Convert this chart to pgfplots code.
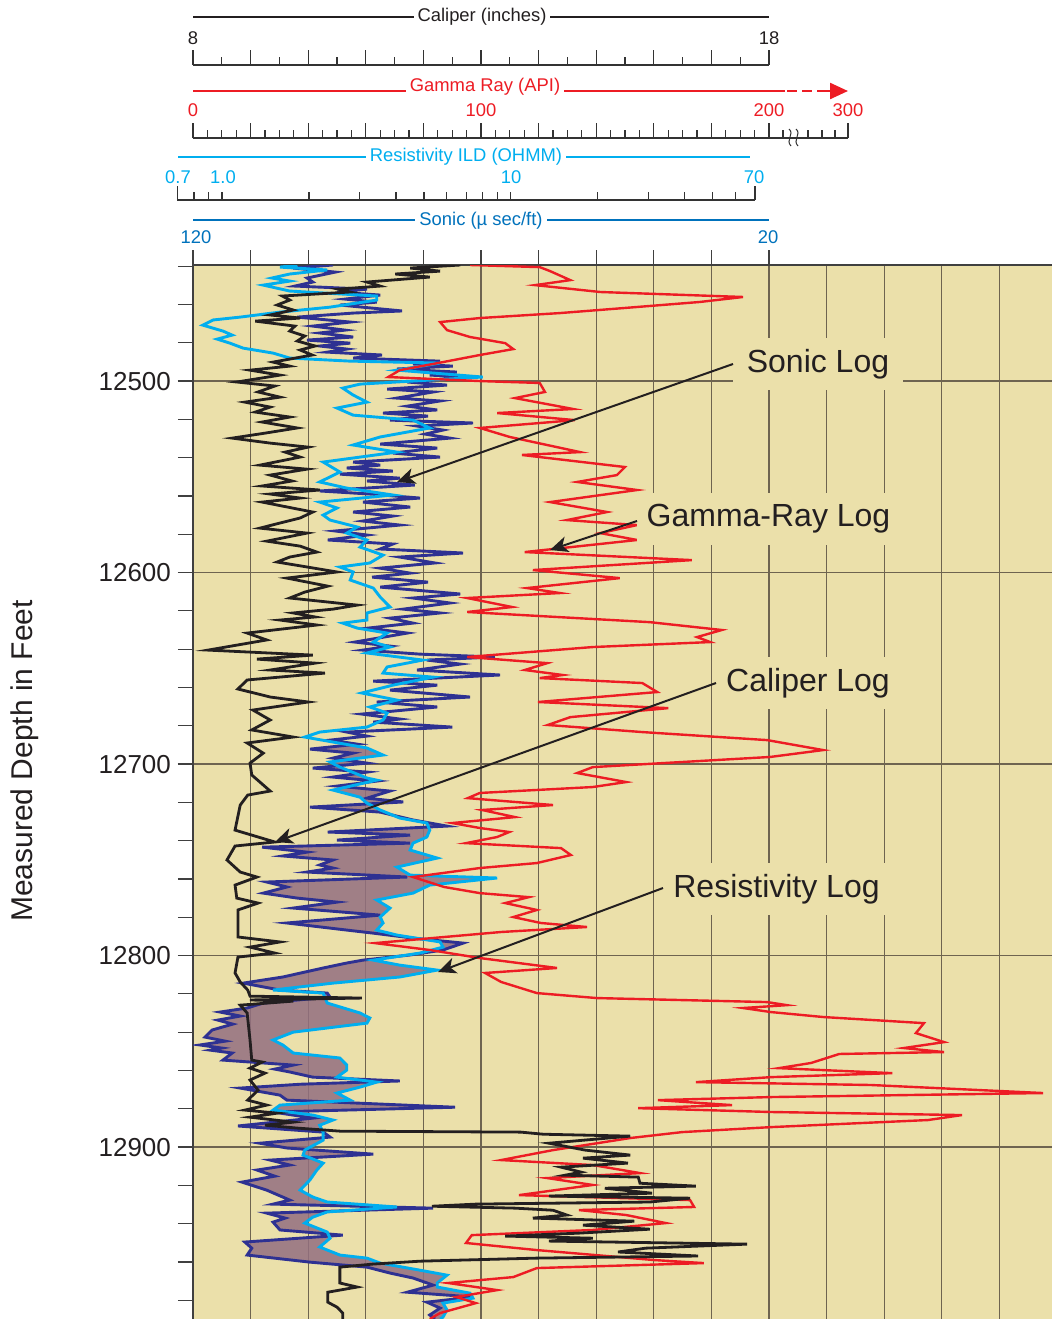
\documentclass[border=0pt]{standalone}
\usepackage{fontspec}
\setmainfont{Liberation Sans}
\usepackage{pgfplots}
\pgfplotsset{compat=1.18}
\usepackage{pgfplotstable}
\usepgfplotslibrary{fillbetween}
\usetikzlibrary{arrows.meta}

\definecolor{bgtan}{RGB}{235,224,170}
\definecolor{gridc}{RGB}{110,100,80}
\definecolor{calc}{RGB}{35,31,32}
\definecolor{grc}{RGB}{237,28,36}
\definecolor{resc}{RGB}{0,174,239}
\definecolor{sonc}{RGB}{46,49,146}
\definecolor{sonhead}{RGB}{0,114,188}
\definecolor{mauve}{RGB}{147,111,128}

\newcommand\hf{\fontsize{9.2}{11}\selectfont}
\newcommand\cf{\fontsize{16}{19}\selectfont}

% x = chart grid unit (caliper inches - 8), d = measured depth (ft)
\pgfplotstableread{
u d
4.64 12439.4
3.77 12441.0
4.29 12442.6
3.51 12444.1
4.11 12445.7
3.02 12448.3
3.25 12450.4
2.52 12452.0
2.73 12453.5
1.55 12455.6
1.68 12457.7
1.46 12460.3
1.74 12462.9
1.34 12465.5
1.86 12467.1
1.08 12468.7
1.77 12471.3
1.68 12473.9
1.94 12476.5
1.81 12479.1
2.12 12481.7
1.86 12483.8
2.07 12486.4
1.39 12490.1
1.68 12492.2
0.99 12494.3
1.51 12496.9
0.76 12500.5
1.42 12502.6
1.13 12505.7
1.51 12508.4
0.90 12511.0
1.34 12513.6
1.08 12516.2
1.68 12518.8
1.20 12521.4
1.81 12524.5
1.25 12527.2
0.68 12529.8
1.34 12532.4
2.00 12534.5
1.60 12537.1
1.86 12539.7
1.16 12543.9
1.98 12546.0
1.34 12549.1
1.72 12552.2
1.20 12554.8
2.20 12556.9
1.34 12559.0
1.86 12561.1
1.20 12563.2
2.08 12568.4
1.86 12571.5
1.16 12576.8
1.98 12579.4
1.28 12583.6
1.86 12586.2
2.15 12589.3
1.68 12591.9
1.46 12594.5
1.98 12597.1
2.50 12599.7
1.63 12602.9
2.34 12607.1
1.94 12610.2
1.68 12613.3
2.85 12617.0
2.43 12619.1
1.74 12621.1
2.12 12623.2
1.51 12624.8
2.15 12627.4
0.94 12631.6
1.28 12635.2
0.26 12640.5
2.08 12643.1
1.11 12645.2
2.12 12647.3
1.34 12650.9
2.29 12652.5
0.94 12656.1
0.78 12660.8
1.34 12665.0
2.00 12667.6
1.04 12671.8
1.34 12677.0
1.02 12682.2
1.74 12685.9
0.94 12689.0
1.22 12694.3
0.99 12699.5
1.02 12705.7
1.34 12714.1
0.95 12716.2
0.82 12721.4
0.73 12734.5
1.42 12740.7
0.73 12742.8
0.59 12750.1
0.82 12756.4
1.11 12759.0
0.73 12763.2
0.76 12770.0
1.13 12772.6
0.78 12776.2
0.78 12790.3
1.51 12792.9
0.99 12795.6
1.42 12798.7
0.78 12800.8
0.73 12809.1
0.82 12813.8
0.95 12818.0
0.99 12821.2
2.93 12822.2
0.99 12823.2
1.74 12823.8
0.82 12825.9
0.94 12830.0
0.99 12844.1
1.02 12854.6
1.20 12855.6
0.99 12858.8
1.25 12861.4
0.99 12865.0
1.13 12870.3
0.95 12875.5
1.28 12878.1
0.90 12880.7
1.46 12882.3
0.99 12884.4
1.74 12887.0
1.25 12888.6
1.81 12890.1
2.55 12891.7
5.69 12892.2
6.08 12893.3
7.59 12894.3
6.18 12898.0
6.81 12901.6
7.59 12904.2
6.77 12905.8
7.55 12908.4
6.39 12910.5
6.74 12913.1
6.46 12914.7
7.73 12915.7
7.76 12918.9
8.73 12920.4
7.15 12921.5
7.97 12924.1
6.18 12925.6
8.63 12926.7
7.93 12928.7
4.91 12929.8
4.15 12930.9
5.59 12931.9
6.25 12933.0
6.49 12935.5
5.90 12937.1
7.66 12938.7
6.77 12940.8
7.93 12942.9
6.67 12945.0
5.42 12946.5
6.94 12947.6
6.18 12949.1
9.62 12950.7
7.86 12952.8
7.38 12954.8
8.77 12956.9
5.97 12958.0
3.94 12959.6
3.13 12961.1
2.55 12962.7
2.55 12971.0
2.85 12973.1
2.34 12975.8
2.34 12981.0
2.50 12983.6
2.60 12986.7
2.60 12989.8
}\caliper

\pgfplotstableread{
u d
4.81 12439.4
6.02 12440.5
6.20 12442.6
6.55 12447.3
5.94 12449.9
7.07 12453.5
9.55 12456.1
8.80 12458.7
7.47 12461.9
6.37 12464.5
4.98 12467.1
4.29 12469.2
4.41 12473.4
4.81 12477.0
5.42 12480.2
5.56 12483.3
4.98 12486.4
4.34 12490.1
3.59 12494.3
3.39 12497.9
4.98 12500.0
6.02 12501.0
6.11 12505.7
5.59 12508.9
6.60 12514.6
5.28 12516.7
6.63 12520.4
4.98 12524.5
5.50 12529.2
6.72 12537.1
5.71 12538.6
7.50 12544.9
7.36 12549.1
6.67 12552.7
7.71 12556.9
6.20 12563.2
7.19 12568.4
6.49 12572.6
7.71 12575.2
7.07 12579.4
7.71 12583.0
5.76 12589.3
8.66 12593.5
5.90 12598.7
7.41 12602.9
5.80 12608.1
6.37 12610.7
4.76 12613.3
5.54 12618.0
4.76 12620.6
7.93 12625.9
9.18 12630.0
8.75 12633.7
8.98 12636.3
6.94 12638.9
4.76 12644.1
6.15 12647.3
5.76 12650.9
6.42 12653.5
6.02 12655.1
7.80 12657.7
8.06 12662.4
5.99 12667.6
8.25 12670.8
6.55 12675.5
6.16 12679.6
7.80 12683.3
9.97 12687.5
10.94 12692.7
10.02 12696.3
6.94 12701.6
6.67 12704.7
7.52 12709.4
6.94 12712.0
4.98 12715.1
4.77 12717.8
6.25 12721.4
5.02 12724.0
5.59 12727.7
4.50 12730.8
4.98 12733.4
5.49 12735.5
5.28 12738.1
4.74 12741.3
6.39 12743.9
6.56 12747.5
5.97 12751.7
4.98 12754.3
3.82 12759.0
4.36 12764.2
4.98 12767.4
5.83 12769.5
5.42 12772.6
5.97 12776.2
5.56 12779.9
6.04 12783.0
6.84 12785.1
5.35 12787.7
3.16 12793.5
4.11 12797.1
4.98 12801.3
6.32 12806.5
5.07 12809.1
5.35 12813.8
5.97 12819.6
7.01 12822.2
9.97 12824.3
10.31 12825.9
9.55 12827.4
10.03 12829.5
10.94 12832.1
12.69 12835.3
12.55 12840.5
13.04 12845.2
12.34 12848.3
13.04 12850.4
11.22 12851.4
10.73 12856.1
10.17 12858.8
12.14 12861.4
10.03 12863.5
8.73 12866.1
11.77 12867.6
14.76 12871.8
10.03 12873.9
8.07 12875.5
9.36 12878.1
7.73 12879.7
10.03 12881.7
13.35 12883.3
12.76 12885.9
10.03 12889.6
8.49 12892.2
7.59 12895.3
6.25 12901.6
5.35 12906.8
6.94 12909.4
7.76 12913.6
6.15 12916.2
6.94 12919.8
5.66 12925.1
8.63 12927.7
8.70 12931.3
6.70 12932.9
7.52 12935.5
8.21 12939.7
6.94 12943.3
4.84 12946.0
4.74 12950.1
5.97 12953.8
8.00 12959.0
8.87 12960.6
5.97 12963.2
5.56 12967.9
4.43 12971.0
5.28 12974.7
4.57 12978.3
4.91 12981.5
4.29 12986.7
4.11 12989.8
}\gamma

\pgfplotstableread{
u d
2.43 12439.4
1.74 12441.0
2.47 12443.1
1.98 12446.2
2.08 12448.3
1.77 12450.4
3.02 12452.0
2.50 12453.5
3.25 12455.1
2.64 12457.2
3.19 12458.8
2.55 12460.3
3.63 12463.4
2.78 12464.5
1.81 12466.6
2.73 12469.2
2.08 12471.3
2.64 12473.4
2.20 12474.9
2.78 12477.0
1.98 12478.6
2.73 12480.2
2.20 12481.7
2.67 12483.3
2.33 12484.9
3.28 12486.4
2.78 12488.0
4.29 12489.6
3.82 12491.1
4.51 12492.2
3.54 12493.7
4.58 12495.3
4.11 12496.9
4.81 12497.9
3.72 12500.5
4.41 12502.1
3.37 12504.2
4.17 12505.7
3.54 12508.9
4.29 12510.4
3.72 12513.1
4.24 12515.1
3.30 12516.7
4.08 12518.3
3.42 12520.4
4.86 12521.9
3.89 12523.5
4.34 12525.6
4.03 12527.7
4.46 12529.8
3.25 12532.9
4.24 12535.0
3.47 12537.6
4.29 12539.7
2.78 12542.3
3.25 12543.9
2.67 12545.4
3.47 12547.0
2.55 12548.6
3.59 12550.7
3.02 12552.2
3.85 12554.3
2.20 12557.4
3.07 12559.0
3.94 12561.1
2.95 12563.2
3.77 12565.8
2.78 12568.4
3.47 12570.5
2.95 12573.1
3.59 12575.2
2.47 12578.3
3.02 12580.4
2.34 12583.0
3.47 12585.1
3.25 12587.7
4.69 12589.8
3.59 12591.9
4.20 12595.0
3.25 12597.7
3.77 12600.3
3.11 12602.4
4.08 12605.0
3.25 12607.6
4.64 12611.2
3.82 12613.3
4.46 12615.9
3.65 12619.1
4.29 12621.1
3.42 12623.8
3.82 12626.4
3.04 12629.0
3.72 12631.6
2.81 12636.3
3.42 12638.4
2.95 12640.5
3.94 12642.6
5.24 12644.1
4.06 12645.7
4.64 12647.8
3.89 12650.9
5.33 12653.5
3.13 12656.7
4.24 12658.8
3.42 12661.4
4.81 12665.0
3.19 12667.6
4.24 12670.2
2.93 12673.9
3.59 12676.5
3.13 12678.1
4.50 12680.7
2.67 12683.3
3.02 12685.4
2.38 12687.5
2.85 12689.6
2.03 12692.2
2.78 12694.3
2.43 12696.9
3.02 12699.5
2.08 12702.1
3.02 12704.2
2.43 12706.8
3.19 12708.9
2.50 12711.5
3.42 12714.1
3.02 12717.8
3.65 12719.8
2.03 12722.5
3.25 12725.1
3.82 12729.2
4.41 12732.4
2.34 12735.5
3.77 12737.1
2.50 12739.7
3.77 12741.3
1.20 12743.4
1.98 12746.0
1.56 12748.0
2.43 12750.1
2.20 12752.7
2.43 12754.3
1.98 12756.4
3.72 12759.0
1.28 12761.6
1.63 12764.2
1.22 12767.4
1.81 12770.0
2.50 12772.1
1.74 12775.2
3.25 12778.9
1.63 12783.0
2.67 12786.7
3.13 12788.3
3.82 12790.9
4.69 12793.5
4.34 12797.1
3.77 12799.7
2.95 12802.4
2.67 12803.9
2.26 12806.5
1.56 12811.2
0.87 12814.4
1.51 12818.0
2.33 12819.6
2.38 12821.7
1.22 12824.8
0.94 12827.4
0.47 12829.5
0.82 12831.6
0.43 12833.7
0.69 12835.8
0.33 12838.9
0.21 12842.6
0.56 12844.7
0.12 12846.7
0.50 12848.3
0.30 12849.4
0.68 12850.9
0.52 12854.6
1.74 12857.2
1.42 12859.3
1.68 12860.8
2.08 12863.5
3.59 12865.5
1.86 12867.2
0.82 12869.2
1.51 12872.9
1.63 12875.5
4.55 12879.2
1.39 12881.7
2.08 12884.9
0.78 12889.0
2.26 12892.2
2.38 12894.8
1.16 12898.0
1.63 12900.5
3.13 12903.7
1.34 12906.8
1.68 12909.4
1.11 12912.0
1.42 12915.2
0.85 12918.3
1.28 12922.5
1.68 12927.7
1.39 12929.8
4.17 12931.9
1.28 12934.5
1.60 12937.1
1.39 12939.2
1.51 12943.3
2.60 12946.0
0.90 12949.6
1.02 12952.8
0.94 12956.4
2.03 12960.1
3.02 12962.7
3.42 12965.8
3.82 12968.4
4.17 12972.1
3.72 12975.8
4.86 12978.3
4.06 12981.0
4.29 12984.1
4.11 12987.7
4.20 12989.8
}\sonic

\pgfplotstableread{
u d
1.81 12439.4
1.51 12440.5
2.33 12442.0
1.68 12444.1
1.37 12446.2
1.68 12447.8
1.22 12449.9
1.68 12453.0
3.19 12455.6
3.19 12457.7
2.38 12461.4
1.51 12464.0
0.82 12466.6
0.35 12468.1
0.17 12470.8
0.52 12473.9
0.68 12476.0
0.42 12478.1
0.64 12480.2
0.87 12482.8
1.39 12485.4
1.68 12488.0
2.73 12489.6
4.29 12490.6
3.54 12494.3
5.03 12497.9
2.90 12501.6
2.60 12503.7
2.78 12507.3
3.02 12511.0
2.50 12514.1
2.78 12517.8
3.82 12520.4
4.11 12524.5
3.25 12529.2
2.78 12533.4
3.54 12537.1
2.26 12542.3
2.55 12547.5
2.20 12552.7
2.67 12555.9
3.47 12559.5
2.20 12563.2
2.50 12566.3
2.26 12570.0
2.38 12572.6
2.85 12576.2
2.67 12579.4
3.02 12583.0
2.90 12586.7
3.30 12590.9
3.07 12595.0
2.55 12597.1
2.78 12599.7
2.73 12603.9
3.13 12608.1
3.25 12612.8
3.42 12618.0
3.02 12621.1
3.02 12624.8
2.60 12626.4
2.85 12629.0
3.37 12631.6
3.13 12636.3
3.42 12638.9
3.02 12642.0
3.99 12645.7
3.37 12649.3
3.30 12652.5
4.17 12654.6
3.47 12658.8
2.93 12662.9
3.54 12666.6
3.07 12670.2
3.37 12673.4
3.30 12677.0
3.02 12680.7
2.20 12683.3
1.94 12685.9
2.43 12688.5
3.02 12691.6
3.30 12695.3
2.38 12698.9
2.55 12701.6
3.02 12707.3
3.19 12708.4
2.43 12713.6
2.90 12717.3
3.02 12720.4
3.25 12724.0
3.59 12728.2
4.06 12730.8
4.11 12734.5
4.06 12738.1
3.82 12741.3
3.77 12744.9
4.24 12749.1
3.54 12753.8
3.77 12758.0
5.28 12759.5
4.11 12763.2
3.82 12767.4
3.19 12771.0
3.42 12775.2
3.25 12779.9
3.30 12783.0
3.19 12786.7
3.54 12789.3
4.29 12792.9
4.34 12795.6
3.94 12798.7
3.13 12802.4
3.59 12805.0
4.24 12807.6
3.59 12811.2
2.43 12814.4
1.39 12818.0
2.26 12819.6
2.33 12824.8
2.90 12830.0
3.07 12832.6
3.02 12835.3
1.74 12840.0
1.39 12844.1
1.56 12846.7
1.74 12850.9
2.55 12853.5
2.67 12857.2
2.67 12859.8
2.50 12863.5
3.19 12866.1
2.90 12868.7
2.50 12871.8
2.73 12875.5
1.51 12878.1
1.39 12880.7
2.08 12883.3
2.43 12885.9
2.20 12888.6
2.26 12892.2
2.26 12896.4
1.94 12901.6
1.91 12904.2
2.26 12908.4
2.15 12912.0
2.03 12917.2
1.86 12922.5
2.08 12926.1
2.33 12928.7
3.54 12931.3
2.33 12933.9
2.08 12936.6
1.94 12939.7
2.33 12944.4
2.38 12947.6
2.20 12952.2
2.55 12956.4
3.02 12958.0
3.25 12960.6
3.94 12964.3
4.41 12966.9
4.24 12971.0
4.24 12973.1
4.81 12976.3
4.86 12978.9
4.34 12981.5
4.41 12985.1
4.34 12988.8
4.29 12989.8
}\resist

\begin{document}
\begin{tikzpicture}
\begin{axis}[
  at={(96.5pt,-659.5pt)}, anchor=south west,
  scale only axis, width=429.5pt, height=527pt,
  xmin=0, xmax=14.913, ymin=12439.4, ymax=12989.8, y dir=reverse,
  axis x line*=top, axis y line*=left,
  axis line style={draw=black!75, line width=0.6pt},
  set layers,
  axis background/.style={fill=bgtan},
  xtick={0,...,10}, xticklabels={},
  extra x ticks={11,12,13,14}, extra x tick labels={},
  extra x tick style={major tick length=0pt, grid=major},
  ytick={12500,12600,...,12900}, minor ytick={12440,12460,...,12980},
  scaled y ticks=false,
  yticklabel={\pgfmathprintnumber[fixed,precision=0,1000 sep={}]{\tick}},
  tick align=outside, major tick length=7.5pt, minor tick length=7.5pt,
  tick style={black!75, line width=0.6pt},
  xmajorgrids, ymajorgrids,
  major grid style={gridc, line width=0.6pt},
  yticklabel style={font=\fontsize{13}{15}\selectfont, text=calc},
  /pgf/number format/assume math mode=true,
  /pgf/number format/1000 sep={},
]
\addplot[name path=son, sonc, line width=1.45pt] table[x=u,y=d]{\sonic};
\addplot[name path=res, resc, line width=1.45pt] table[x=u,y=d]{\resist};
\addplot[fill=mauve, fill opacity=0.85, draw=none] fill between[of=son and res, soft clip={domain y=12690:12990}];
\addplot[grc, line width=1.2pt] table[x=u,y=d]{\gamma};
\addplot[calc, line width=1.4pt] table[x=u,y=d]{\caliper};
\end{axis}

\begin{scope}[x=0.5pt,y=-0.5pt]
% Caliper scale
\draw[calc, line width=1.2pt] (193,17) -- (769,17);
\node[fill=white, inner xsep=2pt, inner ysep=1pt, text=calc, font=\hf] at (482,17) {Caliper (inches)};
\node[font=\hf, text=calc] at (193,38) {8};
\node[font=\hf, text=calc] at (769,38) {18};
\draw[black!80, line width=0.6pt] (193,65) -- (769,65);
\foreach \k in {0,...,10} \draw[black!80, line width=0.6pt] ({193+57.6*\k},65) -- ++(0,-15);
\foreach \k in {0,...,9} \draw[black!80, line width=0.6pt] ({221.8+57.6*\k},65) -- ++(0,-8);
% Gamma ray scale
\draw[grc, line width=1.2pt] (193,91) -- (785,91);
\draw[grc, line width=1.2pt, dash pattern=on 5pt off 2.5pt] (787,91) -- (830,91);
\draw[grc, line width=1.2pt, -{Triangle[length=9pt,width=8pt]}] (826,91) -- (848,91);
\node[fill=white, inner xsep=2pt, inner ysep=1pt, text=grc, font=\hf] at (485,87) {Gamma Ray (API)};
\node[font=\hf, text=grc] at (193,110) {0};
\node[font=\hf, text=grc] at (481,110) {100};
\node[font=\hf, text=grc] at (769,110) {200};
\node[font=\hf, text=grc] at (848,110) {300};
\draw[black!80, line width=0.6pt] (193,138) -- (848,138);
\foreach \k in {0,...,40} \draw[black!80, line width=0.6pt] ({193+14.4*\k},138) -- ++(0,-8);
\foreach \k in {0,...,10} \draw[black!80, line width=0.6pt] ({193+57.6*\k},138) -- ++(0,-15);
\foreach \p in {783,808,822,835} \draw[black!80, line width=0.6pt] (\p,138) -- ++(0,-8);
\draw[black!80, line width=0.6pt] (848,138) -- ++(0,-15);
\draw[black!80, line width=0.5pt] (789,129) .. controls (795,134) and (785,140) .. (791,146);
\draw[black!80, line width=0.5pt] (796,129) .. controls (802,134) and (792,140) .. (798,146);
% Resistivity scale
\draw[resc, line width=1.2pt] (178,157) -- (750,157);
\node[fill=white, inner xsep=2pt, inner ysep=1pt, text=resc, font=\hf] at (466,157) {Resistivity ILD (OHMM)};
\node[font=\hf, text=resc] at (178,177) {0.7};
\node[font=\hf, text=resc] at (223,177) {1.0};
\node[font=\hf, text=resc] at (511,177) {10};
\node[font=\hf, text=resc] at (754,177) {70};
\draw[black!80, line width=0.6pt] (177.3,200) -- (754.9,200);
\foreach \p in {194.0,208.8,222,308.9,359.8,395.9,423.9,446.7,466.1,482.8,497.6,510.8,597.7,648.6,684.7,712.7,735.5}
  \draw[black!80, line width=0.6pt] (\p,200) -- ++(0,-8);
\draw[black!80, line width=0.6pt] (177.3,200) -- ++(0,-14);
\draw[black!80, line width=0.6pt] (754.9,200) -- ++(0,-14);
% Sonic scale
\draw[sonhead, line width=1.2pt] (193,220) -- (769,220);
\node[fill=white, inner xsep=2pt, inner ysep=1pt, text=sonhead, font=\hf] at (481,221) {Sonic (µ sec/ft)};
\node[font=\hf, text=sonhead] at (196,237) {120};
\node[font=\hf, text=sonhead] at (768,237) {20};
% Depth label
\node[rotate=90, font=\fontsize{15}{18}\selectfont, text=calc] at (25,761) {Measured Depth in Feet};
% Callouts
\node[fill=bgtan, inner sep=0pt, minimum width=85pt, minimum height=26pt, font=\cf, text=calc] at (818,364) {Sonic Log};
\draw[calc, line width=1pt, -{Stealth[length=9pt,width=8pt,inset=2.5pt]}] (733,364) -- (397,482);
\node[fill=bgtan, inner sep=0pt, minimum width=131.5pt, minimum height=26pt, font=\cf, text=calc] at (768.5,519) {Gamma-Ray Log};
\draw[calc, line width=1pt, -{Stealth[length=9pt,width=8pt,inset=2.5pt]}] (637,521) -- (550,550);
\node[fill=bgtan, inner sep=0pt, minimum width=92pt, minimum height=26pt, font=\cf, text=calc] at (808,683) {Caliper Log};
\draw[calc, line width=1pt, -{Stealth[length=9pt,width=8pt,inset=2.5pt]}] (716,683) -- (275,842);
\node[fill=bgtan, inner sep=0pt, minimum width=113.5pt, minimum height=26pt, font=\cf, text=calc] at (776.5,889) {Resistivity Log};
\draw[calc, line width=1pt, -{Stealth[length=9pt,width=8pt,inset=2.5pt]}] (663,888) -- (438,972);
\end{scope}
\pgfresetboundingbox
\path[use as bounding box] (0pt,0pt) rectangle (526pt,-659.5pt);
\end{tikzpicture}
\end{document}
